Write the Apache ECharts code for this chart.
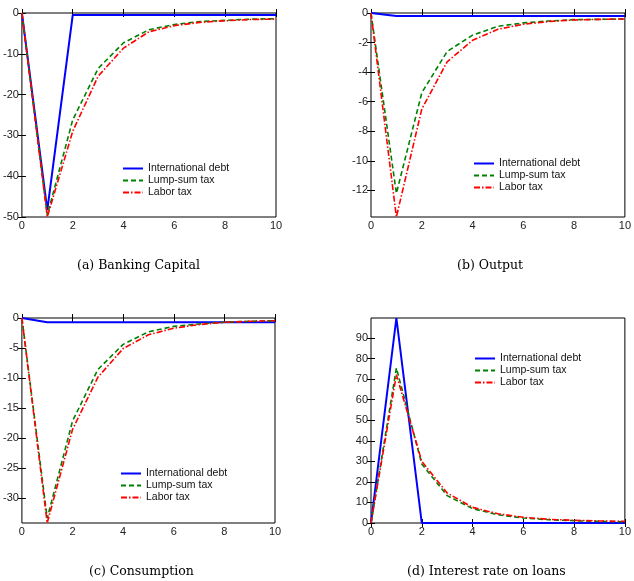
<!DOCTYPE html>
<html>
<head>
<meta charset="utf-8">
<script src="https://cdn.jsdelivr.net/npm/echarts@6/dist/echarts.min.js"></script>
<style>
    html, body {margin:0;padding:0;background:#ffffff;}
    #chart {width:634px;height:581px;}
</style>
</head>
<body>
<div id="chart"></div>
<script>
// periods after the shock
var periods = [0, 1, 2, 3, 4, 5, 6, 7, 8, 9, 10];
var seriesNames = ['International debt', 'Lump-sum tax', 'Labor tax'];
var xTicks = [0, 2, 4, 6, 8, 10];

// (a) banking capital
var capitalDebt  = [0, -48.3, -0.5, -0.5, -0.5, -0.5, -0.5, -0.5, -0.5, -0.5, -0.5];
var capitalLump  = [0, -49.5, -26.2, -13.6, -7.3, -4.1, -2.8, -2.1, -1.8, -1.5, -1.4];
var capitalLabor = [0, -50, -29, -15.5, -8.6, -4.6, -3.1, -2.3, -1.9, -1.6, -1.5];
var capitalTicks = [-50, -40, -30, -20, -10, 0];

// (b) output
var outputDebt  = [0, -0.2, -0.2, -0.2, -0.2, -0.2, -0.2, -0.2, -0.2, -0.2, -0.2];
var outputLump  = [0, -12.2, -5.4, -2.6, -1.5, -0.9, -0.67, -0.54, -0.45, -0.43, -0.4];
var outputLabor = [0, -13.8, -6.5, -3.3, -1.85, -1.1, -0.76, -0.58, -0.47, -0.43, -0.4];
var outputTicks = [-12, -10, -8, -6, -4, -2, 0];

// (c) consumption
var consDebt  = [0, -0.7, -0.7, -0.7, -0.7, -0.7, -0.7, -0.7, -0.7, -0.7, -0.7];
var consLump  = [0, -33.4, -17.2, -8.6, -4.4, -2.3, -1.4, -1.0, -0.7, -0.55, -0.45];
var consLabor = [0, -34.2, -18.6, -9.9, -5.1, -2.8, -1.7, -1.1, -0.72, -0.55, -0.45];
var consTicks = [-30, -25, -20, -15, -10, -5, 0];

// (d) interest rate on loans
var rateDebt  = [0, 99.7, 0, 0, 0, 0, 0, 0, 0, 0, 0];
var rateLump  = [0, 75.4, 28.7, 13.3, 7, 4, 2.4, 1.6, 1.1, 0.8, 0.6];
var rateLabor = [0, 72.1, 30, 14.6, 7.6, 4.5, 2.8, 1.8, 1.3, 1.0, 0.8];
var rateTicks = [0, 10, 20, 30, 40, 50, 60, 70, 80, 90];

var myChart = echarts.init(document.getElementById('chart'));

var panels = [
    {cap: '(a) Banking Capital', data: [capitalDebt, capitalLump, capitalLabor], ticks: capitalTicks, min: -50, max: 0,
     grid: {left: 20, top: 13, width: 256, height: 204}, legend: {left: 122, top: 162}, title: {left: 77, top: 259}},
    {cap: '(b) Output', data: [outputDebt, outputLump, outputLabor], ticks: outputTicks, min: -13.8, max: 0,
     grid: {left: 371, top: 13, width: 255, height: 204}, legend: {left: 473, top: 157}, title: {left: 457, top: 259}},
    {cap: '(c) Consumption', data: [consDebt, consLump, consLabor], ticks: consTicks, min: -34.2, max: 0,
     grid: {left: 20, top: 318, width: 255, height: 205}, legend: {left: 120, top: 467}, title: {left: 89, top: 565}},
    {cap: '(d) Interest rate on loans', data: [rateDebt, rateLump, rateLabor], ticks: rateTicks, min: 0, max: 99.7,
     grid: {left: 371, top: 318, width: 255, height: 205}, legend: {left: 474, top: 352}, title: {left: 407, top: 565}}
];

var colors = ['#0000ff', '#008000', '#ff0000'];
var widths = [2, 1.6, 1.6];
var dashes = ['solid', [5, 3], [6, 2, 1.5, 2]];

var option = {
    animation: false,
    backgroundColor: '#ffffff',
    grid: [], xAxis: [], yAxis: [], series: [], legend: [], title: []
};

var labelFont = {color: '#222', fontSize: 11, fontFamily: 'Liberation Sans, Arial, sans-serif'};

panels.forEach(function (p, k) {
    var g = p.grid;
    option.grid.push({left: g.left, top: g.top, width: g.width, height: g.height,
        show: true, borderColor: '#000', borderWidth: 1, backgroundColor: 'transparent'});
    // bottom / left axes with labels
    option.xAxis.push({gridIndex: k, type: 'value', min: 0, max: 10, position: 'bottom',
        axisLine: {show: false}, splitLine: {show: false},
        axisTick: {inside: true, length: 4, customValues: xTicks, lineStyle: {color: '#000'}},
        axisLabel: Object.assign({margin: 3, customValues: xTicks}, labelFont)});
    option.yAxis.push({gridIndex: k, type: 'value', min: p.min, max: p.max, position: 'left',
        axisLine: {show: false}, splitLine: {show: false},
        axisTick: {inside: true, length: 4, customValues: p.ticks, lineStyle: {color: '#000'}},
        axisLabel: Object.assign({margin: 3, customValues: p.ticks}, labelFont)});
    // mirrored ticks on top / right
    option.xAxis.push({gridIndex: k, type: 'value', min: 0, max: 10, position: 'top',
        axisLine: {show: false}, splitLine: {show: false}, axisLabel: {show: false},
        axisTick: {inside: true, length: 4, customValues: xTicks, lineStyle: {color: '#000'}}});
    option.yAxis.push({gridIndex: k, type: 'value', min: p.min, max: p.max, position: 'right',
        axisLine: {show: false}, splitLine: {show: false}, axisLabel: {show: false},
        axisTick: {inside: true, length: 4, customValues: p.ticks, lineStyle: {color: '#000'}}});

    p.data.forEach(function (vals, s) {
        option.series.push({
            name: seriesNames[s], type: 'line', xAxisIndex: 2 * k, yAxisIndex: 2 * k,
            symbol: 'none', silent: true, z: 3 + s,
            lineStyle: {color: colors[s], width: widths[s], type: dashes[s]},
            itemStyle: {color: colors[s]},
            data: periods.map(function (t, i) { return [t, vals[i]]; })
        });
    });

    option.legend.push({
        data: seriesNames, orient: 'vertical', left: p.legend.left, top: p.legend.top + 1,
        padding: 0, itemGap: 1, itemWidth: 20, itemHeight: 11, selectedMode: false,
        itemStyle: {opacity: 0},
        textStyle: {color: '#111', fontSize: 10.5, fontFamily: 'Liberation Sans, Arial, sans-serif'}
    });

    option.title.push({
        text: p.cap, left: p.title.left, top: p.title.top, padding: 0,
        textStyle: {color: '#000', fontSize: 12.5, fontWeight: 'normal', fontFamily: 'DejaVu Serif, serif'}
    });
});

myChart.setOption(option, true);
</script>
</body>
</html>
